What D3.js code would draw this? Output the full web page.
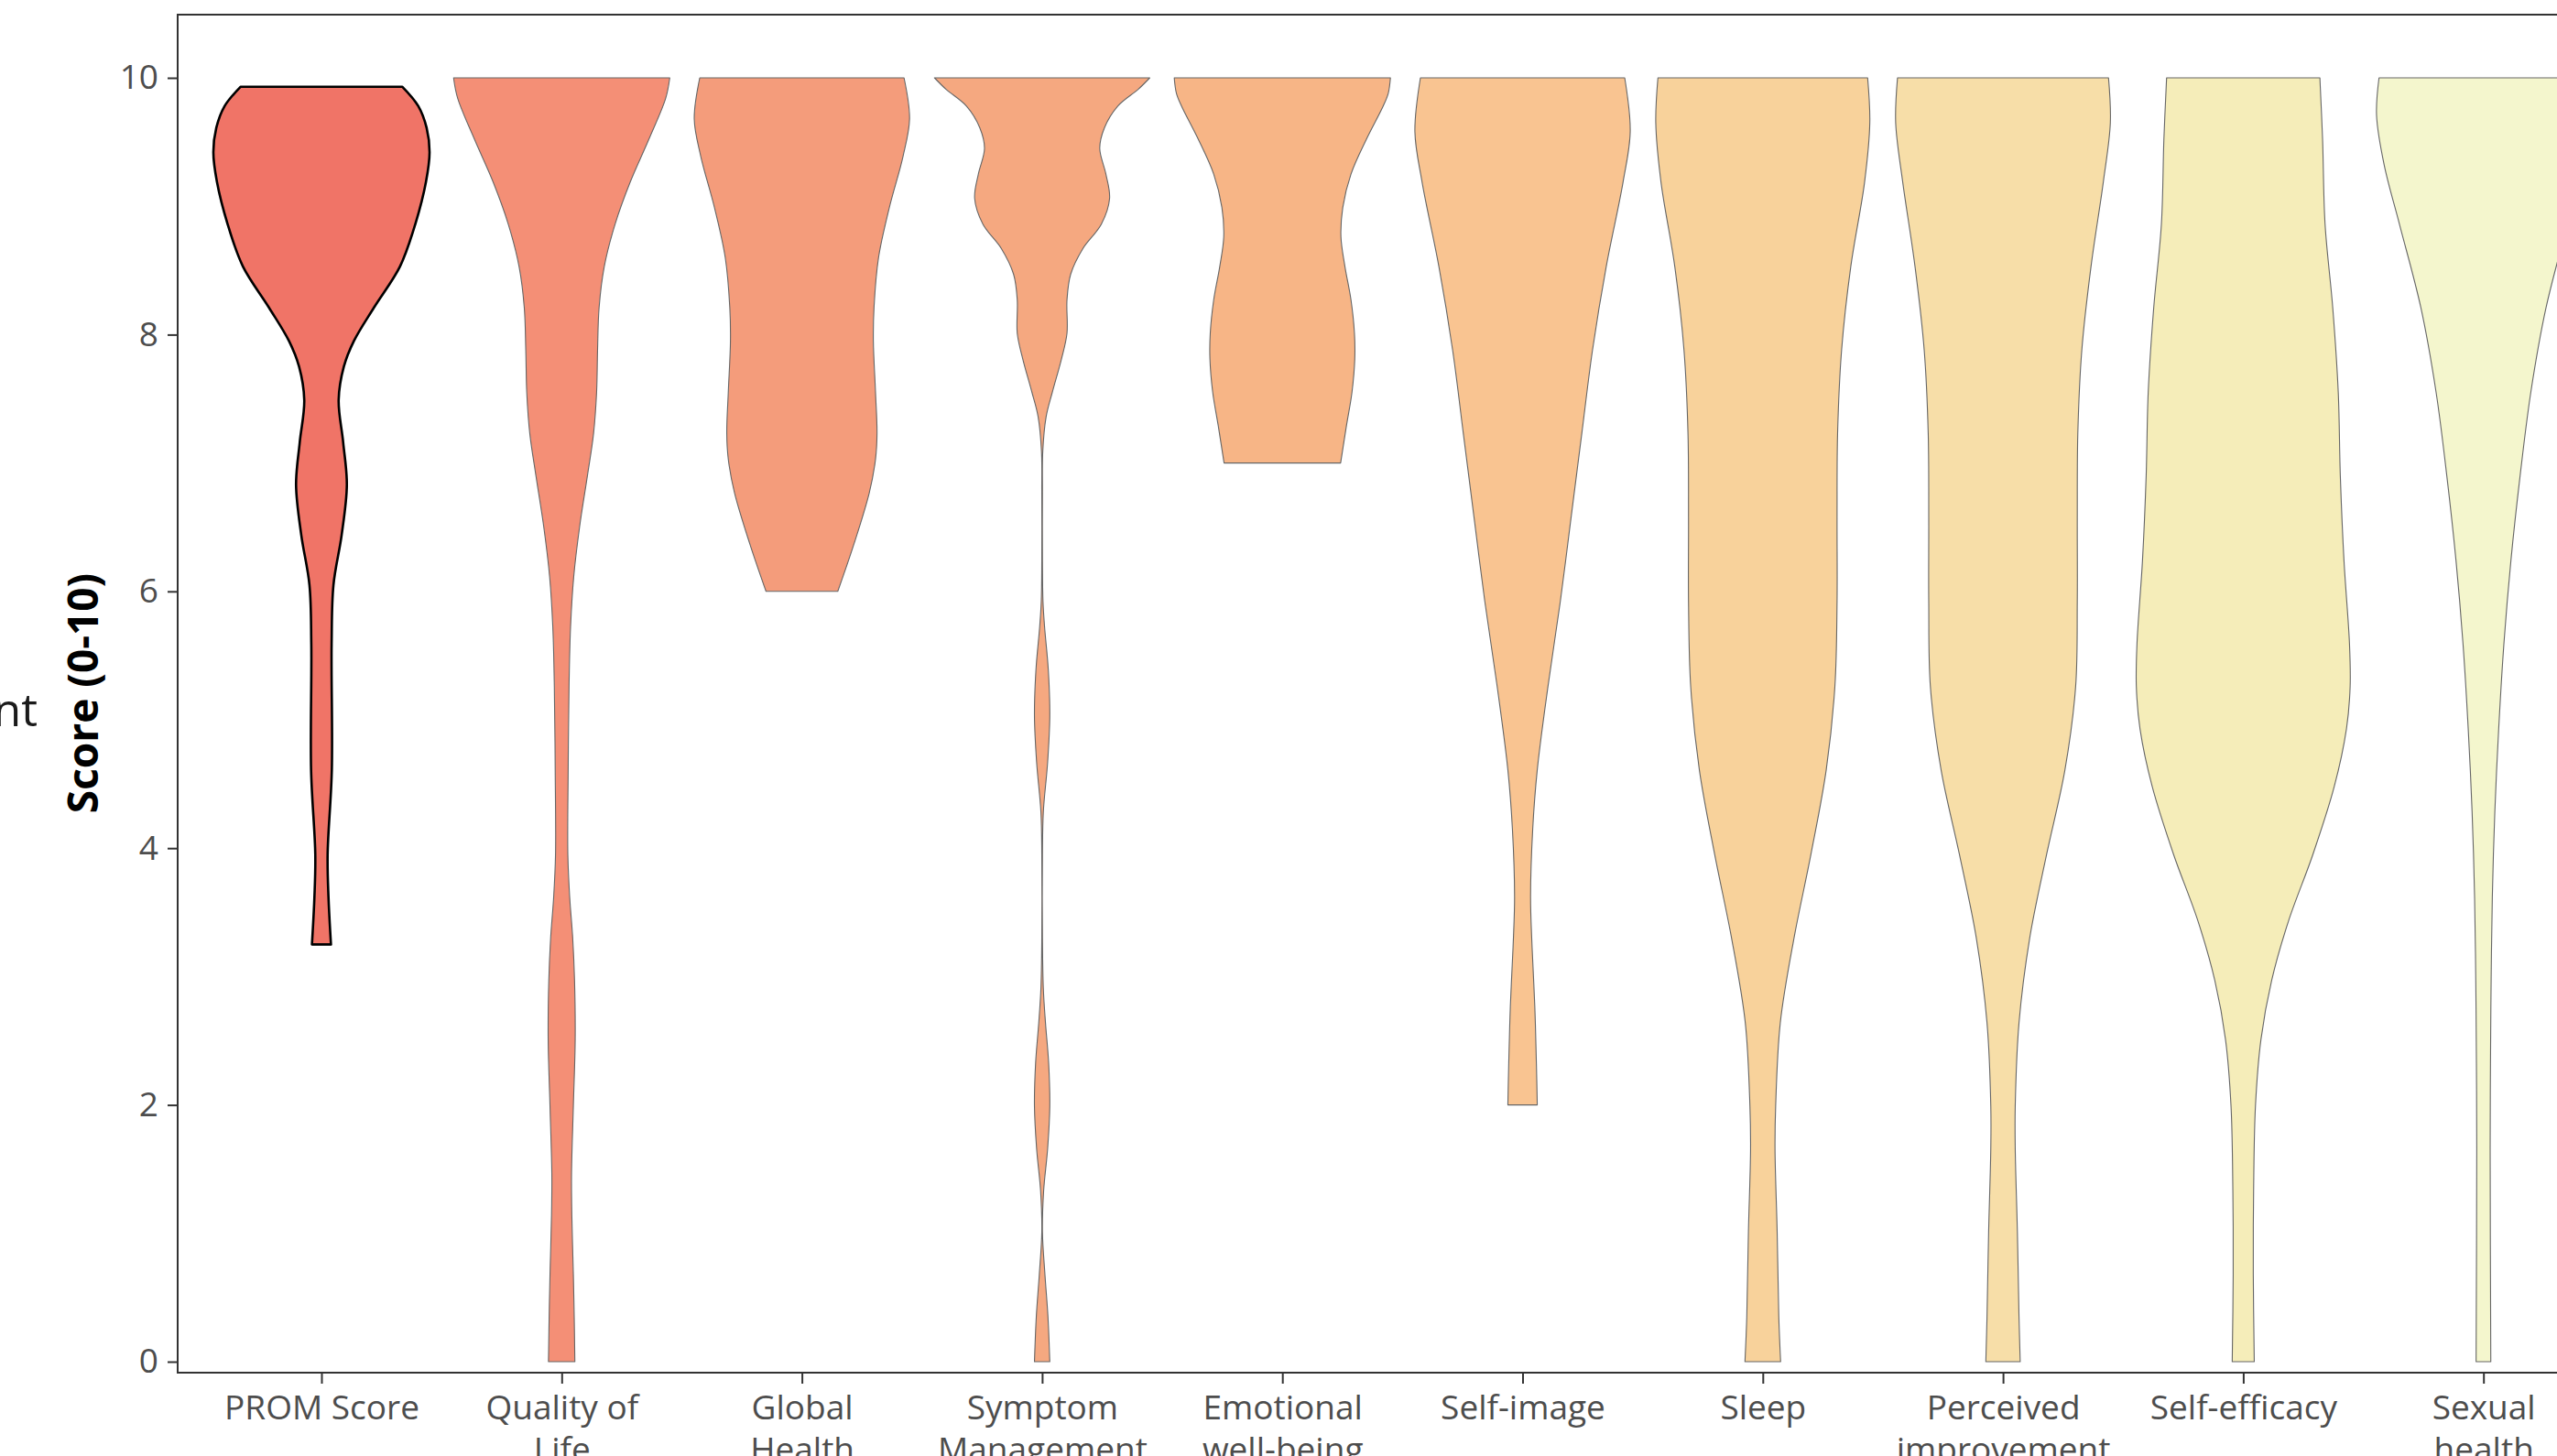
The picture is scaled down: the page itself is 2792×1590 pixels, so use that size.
<!DOCTYPE html>
<html>
<head>
<meta charset="utf-8">
<script src="https://cdn.jsdelivr.net/npm/d3@7"></script>
<style>
  html, body { margin: 0; padding: 0; background: #ffffff; }
  svg { display: block; }
</style>
</head>
<body>
<svg id="chart" width="2792" height="1590"></svg>
<script>
// ---------- data ----------
const categories = ["PROM Score", "Quality of Life", "Global Health", "Symptom Management",
  "Emotional well-being", "Self-image", "Sleep", "Perceived improvement", "Self-efficacy", "Sexual health"];
const tickLabels = [["PROM Score"], ["Quality of", "Life"], ["Global", "Health"], ["Symptom", "Management"],
  ["Emotional", "well-being"], ["Self-image"], ["Sleep"], ["Perceived", "improvement"], ["Self-efficacy"], ["Sexual", "health"]];
const fillColors = ["#F07467", "#F48F76", "#F49C7B", "#F5A880", "#F7B586", "#F9C491",
  "#F8D29B", "#F7DEA8", "#F5EDB9", "#F4F6CD"];
const yTicks = [0, 2, 4, 6, 8, 10];

// violin outlines: [score, relative half-width (1 = widest)]
const promScore = [[9.93,0.749],[9.78,0.896],[9.61,0.973],[9.42,1.0],[9.19,0.967],[8.86,0.868],[8.53,0.726],
  [8.21,0.485],[7.95,0.30],[7.75,0.207],[7.49,0.159],[7.16,0.201],[6.83,0.235],[6.44,0.187],[6.05,0.111],
  [5.59,0.094],[4.61,0.096],[3.95,0.057],[3.62,0.065],[3.25,0.088]];
const qualityOfLife = [[10.0,1.0],[9.84,0.962],[9.52,0.806],[9.19,0.635],[8.86,0.494],[8.53,0.394],[8.21,0.346],
  [7.88,0.332],[7.55,0.323],[7.23,0.295],[6.90,0.238],[6.51,0.167],[6.11,0.111],[5.72,0.082],[5.26,0.068],
  [4.61,0.060],[3.95,0.057],[3.62,0.074],[3.30,0.102],[2.97,0.119],[2.51,0.125],[1.99,0.108],[1.46,0.091],
  [1.14,0.094],[0.68,0.108],[0.35,0.116],[0.0,0.122]];
const globalHealth = [[10.0,0.945],[9.68,0.996],[9.39,0.936],[8.99,0.809],[8.60,0.709],[8.21,0.667],[7.95,0.661],
  [7.55,0.681],[7.23,0.695],[7.03,0.681],[6.77,0.624],[6.37,0.482],[6.0,0.332]];
const symptomManagement = [[10.0,0.996],[9.91,0.888],[9.78,0.70],[9.61,0.576],[9.45,0.533],[9.25,0.59],[9.06,0.624],
  [8.86,0.548],[8.67,0.377],[8.47,0.264],[8.27,0.23],[8.01,0.23],[7.81,0.179],[7.55,0.094],[7.36,0.037],
  [7.09,0.006],[6.77,0.003],[6.24,0.003],[5.92,0.008],[5.72,0.023],[5.39,0.057],[5.03,0.071],[4.67,0.051],
  [4.28,0.011],[3.95,0.003],[3.30,0.003],[2.91,0.011],[2.64,0.031],[2.33,0.06],[1.99,0.071],[1.66,0.051],
  [1.33,0.014],[1.01,0.003],[0.68,0.026],[0.35,0.054],[0.0,0.071]];
const emotionalWellbeing = [[10.0,1.0],[9.88,0.98],[9.78,0.933],[9.52,0.777],[9.25,0.635],[8.99,0.559],[8.76,0.542],
  [8.53,0.579],[8.27,0.635],[8.01,0.667],[7.81,0.67],[7.55,0.644],[7.29,0.593],[7.0,0.539]];
const selfImage = [[10.0,0.945],[9.58,0.996],[9.19,0.93],[8.53,0.774],[7.88,0.647],[7.23,0.548],[6.57,0.448],
  [5.92,0.349],[5.26,0.235],[4.61,0.136],[4.15,0.094],[3.62,0.074],[3.23,0.088],[2.77,0.113],[2.32,0.128],[2.0,0.136]];
const sleep = [[10.0,0.97],[9.65,0.99],[9.19,0.942],[8.53,0.814],[7.88,0.729],[7.23,0.692],[6.57,0.687],[5.92,0.687],
  [5.26,0.667],[4.61,0.587],[3.95,0.445],[3.30,0.289],[2.64,0.162],[1.99,0.119],[1.66,0.113],[1.01,0.133],
  [0.35,0.148],[0.0,0.165]];
const perceivedImprovement = [[10.0,0.976],[9.65,0.993],[9.19,0.928],[8.53,0.814],[7.88,0.729],[7.23,0.692],[6.57,0.687],
  [5.92,0.687],[5.26,0.672],[4.61,0.573],[3.95,0.403],[3.30,0.247],[2.64,0.148],[1.99,0.113],[1.66,0.113],
  [1.01,0.133],[0.35,0.148],[0.0,0.159]];
const selfEfficacy = [[10.0,0.709],[9.52,0.734],[8.86,0.757],[8.21,0.828],[7.55,0.879],[6.90,0.898],[6.24,0.932],
  [5.59,0.983],[5.26,0.989],[4.93,0.955],[4.48,0.842],[3.95,0.644],[3.43,0.418],[2.97,0.263],[2.51,0.164],
  [1.99,0.113],[1.33,0.096],[0.68,0.093],[0.0,0.102]];
const sexualHealth = [[10.0,0.966],[9.71,0.989],[9.32,0.918],[8.86,0.777],[8.21,0.579],[7.55,0.438],[6.90,0.339],
  [6.24,0.254],[5.59,0.189],[4.93,0.141],[4.28,0.105],[3.62,0.082],[2.97,0.071],[2.32,0.065],[1.66,0.062],[0.0,0.068]];

const violins = [promScore, qualityOfLife, globalHealth, symptomManagement, emotionalWellbeing,
  selfImage, sleep, perceivedImprovement, selfEfficacy, sexualHealth];

// ---------- layout ----------
const svg = d3.select("#chart");
const panelLeft = 194, panelTop = 16, panelBottom = 1499;
const step = 262.3;
const firstX = 351;

const x = d3.scalePoint().domain(categories).range([firstX, firstX + step * (categories.length - 1)]);
const y = d3.scaleLinear().domain([0, 10]).range([1487, 85]);
const halfMax = 0.45 * step;

const font = "'Open Sans', 'Noto Sans', sans-serif";

// violins
const g = svg.append("g");
categories.forEach((cat, i) => {
  const cx = x(cat);
  const area = d3.area()
    .curve(d3.curveCatmullRom.alpha(0.5))
    .y(d => y(d[0]))
    .x0(d => cx - d[1] * halfMax)
    .x1(d => cx + d[1] * halfMax);
  g.append("path")
    .datum(violins[i])
    .attr("d", area)
    .attr("fill", fillColors[i])
    .attr("stroke", i === 0 ? "#000000" : "#666666")
    .attr("stroke-width", i === 0 ? 2.6 : 1.1)
    .attr("stroke-linejoin", "round");
});

// panel border
svg.append("rect")
  .attr("x", panelLeft).attr("y", panelTop)
  .attr("width", 2792 + 20 - panelLeft).attr("height", panelBottom - panelTop)
  .attr("fill", "none").attr("stroke", "#333333").attr("stroke-width", 2);

// y axis
const yAxis = svg.append("g")
  .attr("transform", `translate(${panelLeft},0)`)
  .call(d3.axisLeft(y).tickValues(yTicks).tickSize(11).tickPadding(10).tickFormat(d3.format("d")));
yAxis.select(".domain").remove();
yAxis.selectAll(".tick line").attr("stroke", "#333333").attr("stroke-width", 2);
yAxis.selectAll(".tick text")
  .attr("fill", "#4D4D4D").style("font-family", font).style("font-size", "37px");

// x axis
const xAxis = svg.append("g")
  .attr("transform", `translate(0,${panelBottom})`)
  .call(d3.axisBottom(x).tickSize(12).tickFormat(""));
xAxis.select(".domain").remove();
xAxis.selectAll(".tick line").attr("stroke", "#333333").attr("stroke-width", 2);
xAxis.selectAll(".tick").each(function(d, i) {
  const t = d3.select(this).append("text")
    .attr("text-anchor", "middle")
    .attr("fill", "#4D4D4D")
    .style("font-family", font).style("font-size", "37px");
  tickLabels[i].forEach((line, j) => {
    t.append("tspan").attr("x", 0).attr("y", 51 + j * 46).text(line);
  });
});

// y axis title
svg.append("text")
  .attr("transform", "translate(107,757) rotate(-90)")
  .attr("text-anchor", "middle")
  .attr("fill", "#000000")
  .style("font-family", font).style("font-weight", "bold").style("font-size", "46px")
  .text("Score (0-10)");

// fragment of a neighbouring label at the left edge
svg.append("text")
  .attr("x", 41).attr("y", 793)
  .attr("text-anchor", "end")
  .attr("fill", "#1a1a1a")
  .style("font-family", font).style("font-size", "50px")
  .text("nt");
</script>
</body>
</html>
